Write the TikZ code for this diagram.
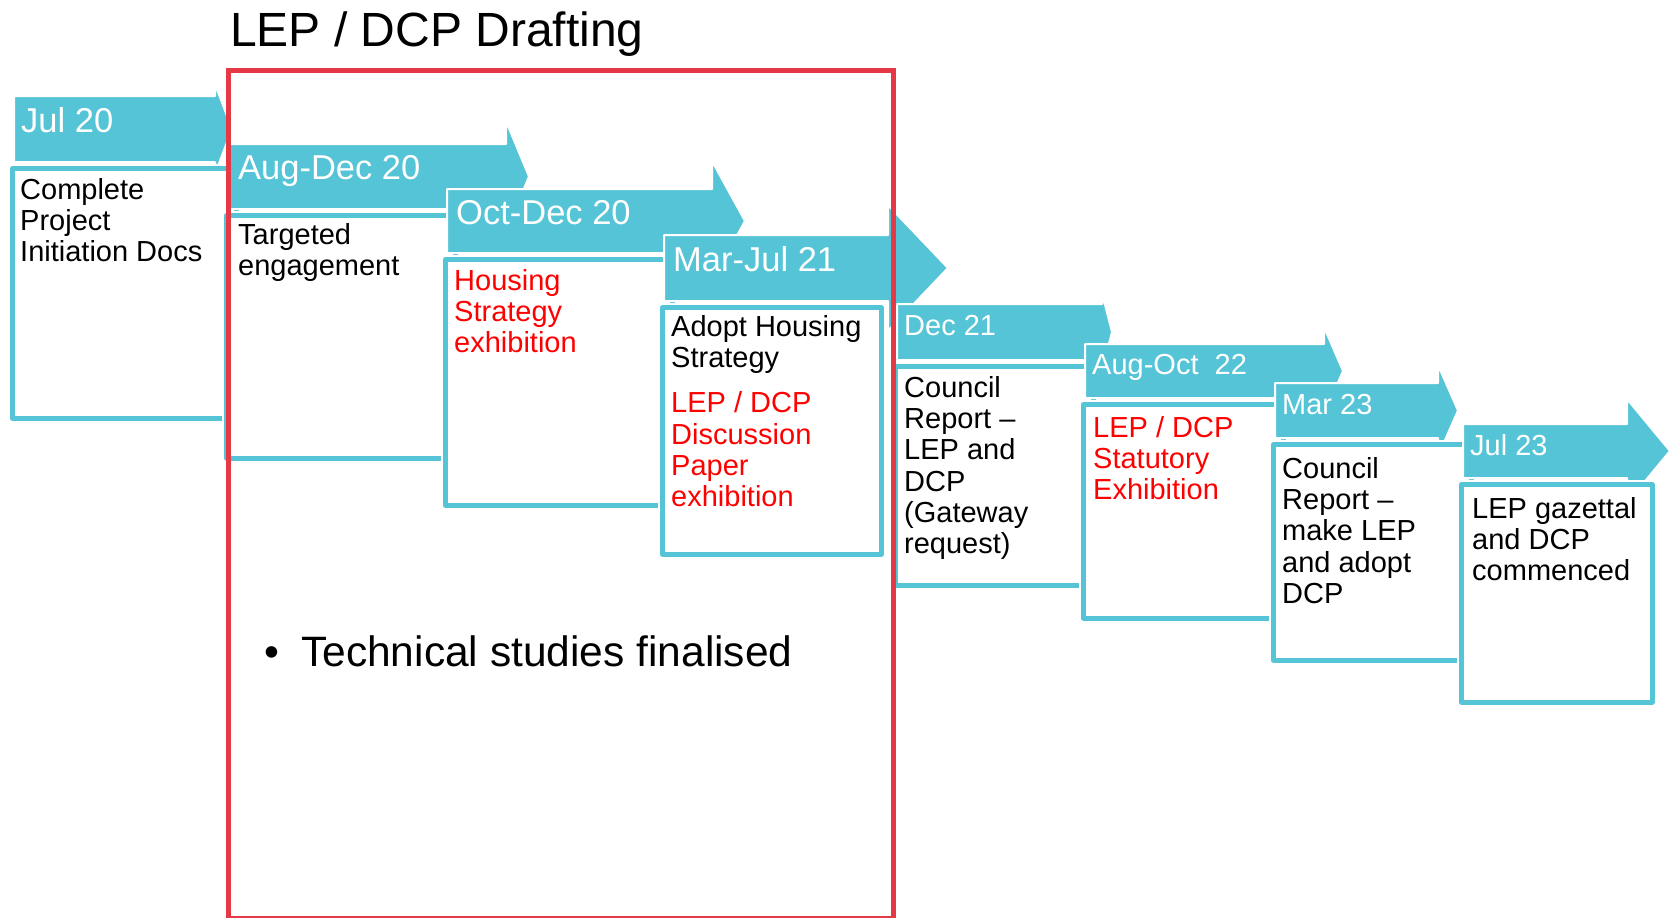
\documentclass[tikz,border=0pt]{standalone}
\usepackage{fontspec}
\setmainfont{Liberation Sans}
\definecolor{aqua}{RGB}{85,196,214}
\definecolor{frameRed}{RGB}{230,57,70}
\tikzset{
    bar/.style={fill=aqua,draw=white,line width=2bp,line join=round},
    card/.style={fill=white,draw=aqua,line width=5bp,line join=round,preaction={draw=white,line width=9bp}},
    head/.style={anchor=base west,inner sep=0,text=white,font=\fontsize{34.5bp}{40bp}\selectfont},
    headsm/.style={head,font=\fontsize{29bp}{33bp}\selectfont},
    note/.style={anchor=north west,inner sep=0,align=left,font=\fontsize{29bp}{31.3bp}\selectfont},
}
\begin{document}
\begin{tikzpicture}[x=1bp,y=-1bp]
    \useasboundingbox (0,0) rectangle (1672,917);
    \foreach \l/\t/\b/\s/\h/\p/\r/\e [count=\i] in {14/96/162/215/84/232/236/418,228/144/209/506/121/529/455/458,447/189/253/712/161/745/672/505,664/235/301/888/205/948/881/554,897/304/360/1102/293/1112/1093/585,1085/344/398/1324/327/1343/1283/618,1275/383/438/1438/365/1458/1471/660,1463/424/478/1627/399/1670/1652/702}{
        \draw[bar](\l,\t)--(\s,\t)--(\s,\h)--(\p,{(\t+\b)/2})--(\s,{\t+\b-\h})--(\s,\b)--(\l,\b)--cycle;
        \coordinate (b\i) at (\l,{(\t+\b)/2});
        \coordinate (c\i) at (\l,\b);
        \draw[card]({\l-1.5},{\b+6.5})rectangle({\r},{\e});
    }
    \node[head] (hd1) at ([shift={(7,3)}]b1) {Jul 20};
    \node[head] (hd2) at ([shift={(10,3)}]b2) {Aug-Dec 20};
    \node[head] (hd3) at ([shift={(9,3)}]b3) {Oct-Dec 20};
    \node[head] (hd4) at ([shift={(9,3)}]b4) {Mar-Jul 21};
    \node[headsm] (hd5) at ([shift={(7,3)}]b5) {Dec 21};
    \node[headsm] (hd6) at ([shift={(7,3)}]b6) {Aug-Oct~~22};
    \node[headsm] (hd7) at ([shift={(7,4)}]b7) {Mar 23};
    \node[headsm] (hd8) at ([shift={(7,4)}]b8) {Jul 23};
    \node[note] (tx1) at ([shift={(6,16)}]c1) {Complete\\Project\\Initiation Docs};
    \node[note] (tx2) at ([shift={(10,14)}]c2) {Targeted\\engagement};
    \node[note,text=red] (tx3) at ([shift={(7,16)}]c3) {Housing\\Strategy\\exhibition};
    \node[note] (tx4) at ([shift={(7,14)}]c4) {Adopt Housing\\Strategy\\[14bp]\textcolor{red}{LEP / DCP}\\\textcolor{red}{Discussion}\\\textcolor{red}{Paper}\\\textcolor{red}{exhibition}};
    \node[note] (tx5) at ([shift={(7,16)}]c5) {Council\\Report --\\LEP and\\DCP\\(Gateway\\request)};
    \node[note,text=red] (tx6) at ([shift={(8,18)}]c6) {LEP / DCP\\Statutory\\Exhibition};
    \node[note] (tx7) at ([shift={(7,19)}]c7) {Council\\Report --\\make LEP\\and adopt\\DCP};
    \node[note] (tx8) at ([shift={(9,19)}]c8) {LEP gazettal\\and DCP\\commenced};
    \node[anchor=base west,inner sep=0,font=\fontsize{42.5bp}{48bp}\selectfont] (bul) at (264,666) {\makebox[37bp][l]{\textbullet}Technical studies finalised};
    \node[anchor=base west,inner sep=0,font=\fontsize{48bp}{54bp}\selectfont] (ttl) at (230,46) {LEP / DCP Drafting};
    \draw[draw=frameRed,line width=5bp](228,70.5)rectangle(893,918.5);
\end{tikzpicture}
\end{document}
